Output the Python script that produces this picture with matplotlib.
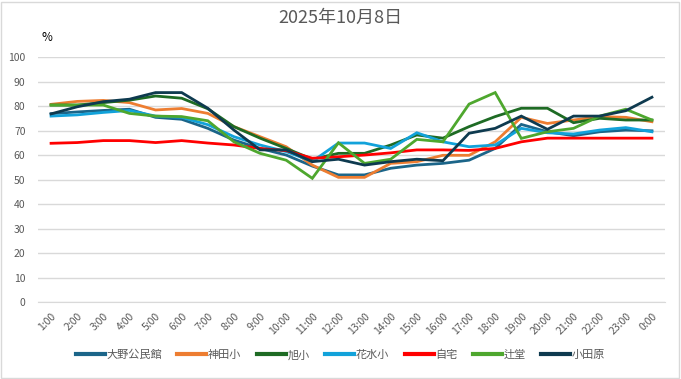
import matplotlib
matplotlib.use('Agg')
import matplotlib.pyplot as plt
from matplotlib.patches import Rectangle

plt.rcParams['font.family'] = ['Noto Sans CJK JP', 'DejaVu Sans']

hours = [f'{h}:00' for h in range(1, 24)] + ['0:00']

series_names = ['大野公民館', '神田小', '旭小', '花水小', '自宅', '辻堂', '小田原']
oono = [77, 77.7, 78.3, 78.8, 75.5, 74.7, 71, 66.2, 62.8, 60.1, 55.6, 52, 52, 54.7, 56, 56.7, 58, 62.8, 72.6, 69.6, 68, 69.6, 70.3, 70]
kanda = [80.8, 82, 82.4, 81.5, 78.5, 79.1, 77.1, 71.7, 67.6, 63.5, 56, 51, 51, 56.7, 57.4, 60, 60, 65.5, 75.5, 73, 74.4, 75.8, 75.5, 73.7]
asahi = [80.5, 80.5, 81.5, 82.5, 84.2, 83.3, 79, 71.7, 67, 62.8, 58.4, 60.8, 60.8, 64.2, 68.3, 67, 71.7, 75.8, 79.2, 79.2, 73.3, 75.1, 74.4, 74.4]
hanamizu = [76, 76.5, 77.5, 78.3, 76, 75.5, 72.5, 67.6, 64.2, 61.5, 57.5, 65, 65, 62.8, 69.2, 65.5, 63.5, 64.2, 71, 69.2, 68.7, 70.3, 71.3, 69.6]
jitaku = [64.9, 65.2, 66, 66, 65.2, 66, 65, 64.2, 62.8, 61.9, 58.8, 59.4, 60.1, 61, 62.2, 62.2, 62, 62.8, 65.5, 67, 67, 67, 67, 67]
tsujido = [80.5, 80.5, 80.5, 77.1, 76, 75.8, 74.1, 65.5, 60.8, 58, 50.6, 65.1, 56.7, 58.4, 66.5, 65.5, 80.9, 85.6, 66.9, 69.6, 71, 76, 78.8, 74.4]
odawara = [76.9, 79.8, 81.9, 82.9, 85.6, 85.6, 79.2, 70.3, 62.2, 62.2, 57.4, 58.4, 56, 57.4, 58.4, 57.8, 69, 71, 76, 70.6, 76, 76, 78.2, 83.7]

values = [oono, kanda, asahi, hanamizu, jitaku, tsujido, odawara]
colors = ['#1B6589', '#ED7D31', '#1E6B24', '#12A2DA', '#FF0000', '#4EA72E', '#0E3A4F']

fig = plt.figure(figsize=(6.81, 3.79), dpi=100)
ax = fig.add_axes([0.0558, 0.2024, 0.9207, 0.6464])

x = list(range(len(hours)))
for name, vals, col in zip(series_names, values, colors):
    ax.plot(x, vals, color=col, lw=2.0, label=name, solid_joinstyle='miter')

ax.set_xlim(-0.5, len(hours) - 0.5)
ax.set_ylim(0, 100)
ax.set_yticks(range(0, 101, 10))
ax.set_xticks(x)
ax.set_xticklabels(hours, rotation=45, ha='right', va='top', rotation_mode='anchor')
ax.tick_params(axis='both', length=0, labelsize=7.5, labelcolor='#595959')
ax.tick_params(axis='y', pad=9)
ax.tick_params(axis='x', pad=6)
ax.grid(axis='y', color='#D9D9D9', lw=1)
ax.set_axisbelow(True)
for s in ['top', 'right', 'left']:
    ax.spines[s].set_visible(False)
ax.spines['bottom'].set_color('#D9D9D9')

fig.text(0.5, 0.952, '2025年10月8日', ha='center', va='center', fontsize=13, color='#595959')
fig.text(0.069, 0.9, '%', ha='center', va='center', fontsize=8.5, color='#000000')

leg = fig.legend(loc='center', bbox_to_anchor=(0.5, 0.063), ncol=7, frameon=False,
                 fontsize=8, handlelength=2.6, handletextpad=0.15, columnspacing=1.4)
for t in leg.get_texts():
    t.set_color('#595959')
for h in leg.legend_handles:
    h.set_linewidth(3)

fig.patches.append(Rectangle((0.002, 0.003), 0.995, 0.993, transform=fig.transFigure,
                             fill=False, edgecolor='#D9D9D9', lw=1))

fig.savefig('out.png', dpi=100)
